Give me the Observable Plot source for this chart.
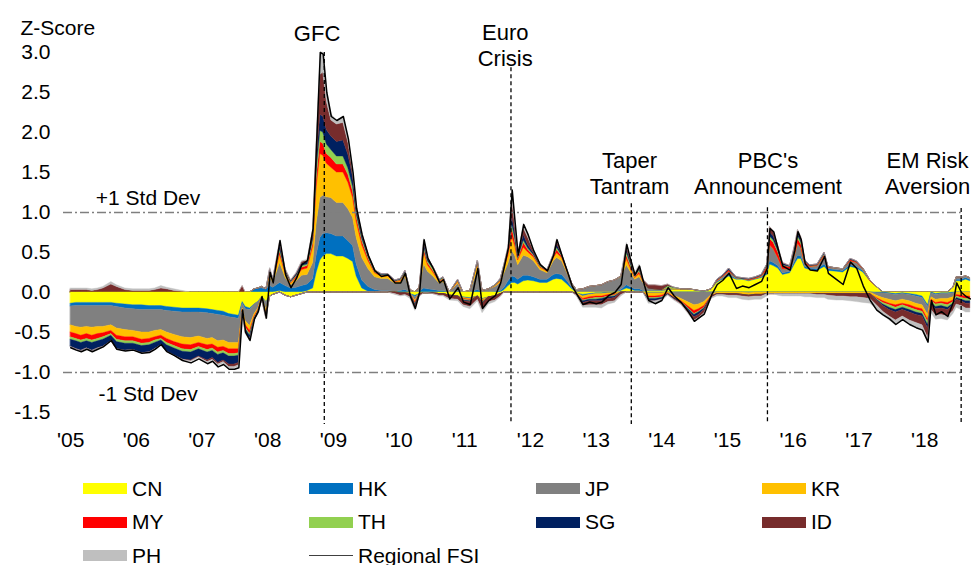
<!DOCTYPE html>
<html>
<head>
<meta charset="utf-8">
<script src="https://cdn.jsdelivr.net/npm/d3@7"></script>
<script src="https://cdn.jsdelivr.net/npm/@observablehq/plot@0.6"></script>
<style>
  html, body { margin: 0; padding: 0; background: #fff; }
  #chart { position: relative; width: 971px; height: 565px; overflow: hidden; font-family: "Liberation Sans", Arial, sans-serif; }
  #chart svg { display: block; }
  .legend { position: relative; width: 971px; height: 107px; }
  .item { position: absolute; height: 24px; display: flex; align-items: center; font-size: 21px; color: #000; white-space: nowrap; }
  .sw { width: 44px; height: 11px; margin-right: 5px; flex: none; }
  .ln { width: 44px; height: 1.5px; margin-right: 5px; flex: none; background: #404040; }
</style>
</head>
<body>
<div id="chart"></div>
<script>
// ---------------- DATA ----------------
const countries = ["CN", "HK", "JP", "KR", "MY", "TH", "SG", "ID", "PH"];
const years = [2005, 2006, 2007, 2008, 2009, 2010, 2011, 2012, 2013, 2014, 2015, 2016, 2017, 2018];
const yTicks = [-1.5, -1.0, -0.5, 0.0, 0.5, 1.0, 1.5, 2.0, 2.5, 3.0];

const dates = [
  "2005-01-01","2005-02-01","2005-03-01","2005-04-01","2005-05-01","2005-06-01","2005-07-01","2005-08-15","2005-09-15","2005-11-01",
  "2005-12-15","2006-02-01","2006-03-15","2006-04-15","2006-05-20","2006-06-20","2006-08-01","2006-09-15","2006-11-01","2006-12-15",
  "2007-02-01","2007-03-01","2007-04-01","2007-05-01","2007-06-01","2007-07-01","2007-07-25","2007-08-15","2007-09-01","2007-09-25",
  "2007-10-20","2007-11-10","2007-12-01","2007-12-25","2008-01-15","2008-02-01","2008-03-10","2008-04-10","2008-05-10","2008-06-10",
  "2008-07-10","2008-08-10","2008-09-10","2008-09-30","2008-10-20","2008-11-05","2008-11-25","2008-12-20","2009-01-20","2009-02-25",
  "2009-03-25","2009-04-20","2009-05-10","2009-06-10","2009-07-15","2009-08-20","2009-09-25","2009-11-01","2009-12-10","2010-01-10",
  "2010-02-05","2010-03-05","2010-04-01","2010-04-25","2010-05-20","2010-06-10","2010-07-10","2010-08-15","2010-09-05","2010-10-10",
  "2010-11-25","2010-12-25","2011-02-01","2011-03-15","2011-04-10","2011-05-15","2011-06-20","2011-07-20","2011-08-10","2011-09-01",
  "2011-09-22","2011-10-08","2011-10-25","2011-11-25","2011-12-20","2012-01-20","2012-02-25","2012-04-05","2012-05-10","2012-05-28",
  "2012-06-25","2012-07-25","2012-08-20","2012-09-15","2012-10-20","2012-11-25","2013-01-01","2013-02-01","2013-03-10","2013-04-15",
  "2013-05-20","2013-06-20","2013-07-08","2013-08-05","2013-08-30","2013-09-20","2013-10-20","2013-11-25","2014-01-01","2014-02-05",
  "2014-03-10","2014-04-20","2014-05-25","2014-07-01","2014-07-25","2014-08-25","2014-10-05","2014-11-05","2014-12-05","2015-01-10",
  "2015-02-20","2015-03-25","2015-05-01","2015-06-05","2015-07-10","2015-08-10","2015-08-25","2015-09-15","2015-10-10","2015-11-05",
  "2015-12-15","2016-01-10","2016-01-28","2016-02-15","2016-03-08","2016-04-05","2016-05-15","2016-06-24","2016-07-15","2016-08-30",
  "2016-10-05","2016-11-15","2016-12-20","2017-01-25","2017-03-05","2017-04-10","2017-05-15","2017-06-20","2017-07-25","2017-09-01",
  "2017-10-10","2017-11-15","2017-12-20","2018-01-20","2018-02-08","2018-03-05","2018-04-05","2018-05-10","2018-06-10","2018-06-28",
  "2018-07-25","2018-08-20","2018-09-12"
];

const CN = [
  -0.14,-0.13,-0.13,-0.13,-0.13,-0.13,-0.13,-0.13,-0.14,-0.15,
  -0.16,-0.16,-0.17,-0.17,-0.17,-0.18,-0.19,-0.20,-0.20,-0.20,
  -0.21,-0.22,-0.23,-0.24,-0.27,-0.28,-0.29,-0.12,-0.18,-0.20,
  -0.15,-0.12,-0.06,-0.12,-0.05,-0.03,0.02,-0.04,-0.06,-0.04,
  -0.02,0.02,0.05,0.25,0.40,0.45,0.48,0.48,0.45,0.45,
  0.42,0.38,0.20,0.05,0.01,0,0,0,0,-0.01,
  -0.01,-0.02,-0.04,-0.02,-0.01,-0.01,-0.01,-0.02,-0.02,-0.04,
  -0.05,-0.06,-0.07,-0.05,-0.08,-0.06,-0.05,-0.02,0.03,0.08,
  0.12,0.12,0.10,0.14,0.15,0.14,0.12,0.12,0.16,0.17,
  0.16,0.10,0.04,-0.01,-0.03,-0.02,-0.01,-0.01,0,0,
  0.02,0.05,0.04,0.02,0.02,0.01,0.02,0.02,0.02,0.03,
  0.04,0.04,0.04,0.03,0.02,0.01,0.04,0.12,0.16,0.20,
  0.16,0.16,0.14,0.16,0.18,0.22,0.35,0.33,0.30,0.22,
  0.24,0.35,0.42,0.42,0.30,0.28,0.27,0.32,0.27,0.26,
  0.25,0.32,0.30,0.25,0.14,0.07,0,-0.01,-0.02,-0.01,
  -0.02,-0.03,-0.05,-0.16,0,-0.02,-0.01,-0.01,0.06,0.14,
  0.14,0.16,0.14
];
const HK = [
  -0.035,-0.04,-0.04,-0.04,-0.04,-0.04,-0.04,-0.04,-0.04,-0.05,
  -0.05,-0.06,-0.05,-0.05,-0.05,-0.05,-0.05,-0.05,-0.05,-0.05,
  -0.05,-0.05,-0.05,-0.05,-0.04,-0.04,-0.04,-0.02,-0.03,-0.02,
  0.04,0.05,0.05,0.04,0.08,0.06,0.10,0.08,0.05,0.06,
  0.08,0.08,0.12,0.22,0.28,0.28,0.26,0.25,0.25,0.25,
  0.22,0.20,0.15,0.10,0.06,0.03,0.02,0.02,0.01,0.02,
  0.03,0,-0.02,0.01,0.05,0.04,0.03,0.02,0.02,0,
  0.01,-0.01,-0.01,0.03,-0.01,0,0.01,0.02,0.03,0.06,
  0.08,0.07,0.06,0.07,0.06,0.05,0.04,0.04,0.06,0.06,
  0.06,0.04,0.02,0,-0.02,-0.01,-0.01,-0.01,-0.01,-0.01,
  0.01,0.04,0.03,0.02,0.02,0.01,-0.01,-0.01,-0.01,0,
  0,0,0,0,0,0,0,0.01,0.01,0.02,
  0.01,0.01,0.01,0.01,0.01,0.02,0.04,0.04,0.03,0.02,
  0.02,0.03,0.04,0.03,0.02,0.02,0.02,0.03,0.02,0.02,
  0.02,0.02,0.02,0.02,0,-0.01,-0.01,-0.01,-0.01,-0.01,
  -0.01,-0.02,-0.02,-0.02,-0.01,-0.01,-0.01,-0.01,-0.01,0.02,
  0.02,0.02,0.02
];
const JP = [
  -0.235,-0.26,-0.27,-0.26,-0.27,-0.26,-0.26,-0.24,-0.27,-0.27,
  -0.27,-0.28,-0.28,-0.26,-0.25,-0.27,-0.29,-0.31,-0.32,-0.30,
  -0.32,-0.30,-0.33,-0.31,-0.32,-0.31,-0.30,-0.06,-0.15,-0.20,
  -0.12,-0.08,0.02,-0.10,0.12,0.06,0.25,0.10,0.04,0.08,
  0.13,0.12,0.20,0.40,0.50,0.48,0.45,0.45,0.42,0.42,
  0.40,0.35,0.33,0.28,0.22,0.16,0.15,0.15,0.10,0.10,
  0.16,0.03,-0.04,0.04,0.30,0.22,0.17,0.09,0.11,0,
  0.10,0,0.02,0.25,0.02,0.04,0.06,0.10,0.18,0.22,
  0.32,0.27,0.18,0.25,0.23,0.20,0.12,0.08,0.17,0.20,
  0.17,0.10,0.04,0.03,0.04,0.07,0.08,0.09,0.13,0.15,
  0.16,0.25,0.20,0.12,0.15,0.10,0.03,0.02,0.01,0.02,
  -0.04,-0.08,-0.12,-0.16,-0.15,-0.12,-0.03,0.01,0.02,0.04,
  0.01,0,-0.01,0,0.01,0.04,0.20,0.17,0.10,0.05,
  0.03,0.08,0.15,0.10,0.04,0.02,0.04,0.10,0.02,0.02,
  0.02,0.05,0.05,0.02,0,-0.03,-0.06,-0.07,-0.08,-0.07,
  -0.08,-0.09,-0.09,-0.10,-0.05,-0.06,-0.06,-0.06,-0.05,0.03,
  0.03,0.02,0.02
];
const KR = [
  -0.09,-0.09,-0.10,-0.09,-0.10,-0.09,-0.08,-0.07,-0.09,-0.09,
  -0.08,-0.09,-0.08,-0.08,-0.07,-0.08,-0.09,-0.09,-0.09,-0.08,
  -0.08,-0.08,-0.08,-0.08,-0.08,-0.08,-0.08,-0.02,-0.05,-0.06,
  -0.03,-0.02,-0.01,-0.04,0.04,0.02,0.10,0.05,0.02,0.04,
  0.07,0.08,0.20,0.45,0.55,0.50,0.42,0.38,0.38,0.38,
  0.33,0.25,0.20,0.16,0.10,0.05,0.03,0.03,0.02,0.02,
  0.04,0,-0.02,0.01,0.15,0.08,0.05,0.02,0.03,0,
  0.02,-0.01,-0.01,0.08,-0.02,0,0.01,0.02,0.06,0.10,
  0.18,0.12,0.06,0.10,0.06,0.05,0.03,0.02,0.04,0.06,
  0.04,0.02,0.01,-0.01,-0.03,-0.03,-0.03,-0.03,-0.02,-0.02,
  0.01,0.08,0.05,0.02,0.04,0.01,-0.04,-0.04,-0.03,-0.01,
  -0.02,-0.03,-0.05,-0.07,-0.06,-0.05,-0.01,-0.02,-0.02,-0.02,
  -0.02,-0.03,-0.03,-0.03,-0.03,-0.02,-0.02,-0.02,-0.02,-0.02,
  -0.02,-0.02,-0.02,-0.02,-0.02,-0.02,-0.02,-0.02,-0.02,-0.02,
  -0.02,-0.02,-0.02,-0.02,-0.02,-0.03,-0.04,-0.05,-0.05,-0.05,
  -0.05,-0.05,-0.05,-0.06,-0.03,-0.04,-0.04,-0.05,-0.04,-0.03,
  -0.04,-0.05,-0.05
];
const MY = [
  -0.06,-0.06,-0.06,-0.06,-0.06,-0.06,-0.05,-0.04,-0.05,-0.05,
  -0.05,-0.05,-0.05,-0.04,-0.04,-0.05,-0.05,-0.06,-0.06,-0.05,
  -0.06,-0.05,-0.06,-0.05,-0.06,-0.06,-0.05,-0.01,-0.03,-0.04,
  -0.02,-0.01,-0.01,-0.02,0.02,0.01,0.04,0.02,0.01,0.02,
  0.03,0.03,0.05,0.12,0.15,0.15,0.12,0.12,0.10,0.10,
  0.10,0.08,0.06,0.05,0.03,0.01,0.01,0.01,0.01,0.01,
  0.01,0,-0.02,0,0.04,0.03,0.02,0.01,0.01,0,
  0.01,-0.01,-0.01,0.01,-0.01,0,0,0.01,0.02,0.04,
  0.10,0.06,0.02,0.06,0.03,0.02,0.01,0.01,0.02,0.04,
  0.02,0.01,0,0,-0.02,-0.02,-0.02,-0.02,-0.02,-0.01,
  0,0.04,0.03,0.01,0.03,0.01,-0.02,-0.02,-0.02,-0.01,
  -0.01,-0.01,-0.02,-0.04,-0.03,-0.02,-0.01,0.01,0.01,0.02,
  0,0,0.01,0.01,0.01,0.04,0.08,0.08,0.07,0.04,
  0.03,0.05,0.06,0.05,0.02,0.01,0.01,0.02,0.01,0,
  0,0.02,0.01,0.01,0.01,-0.01,-0.02,-0.02,-0.03,-0.02,
  -0.03,-0.03,-0.03,-0.03,-0.02,-0.02,-0.02,-0.03,-0.02,-0.02,
  -0.03,-0.03,-0.03
];
const TH = [
  -0.03,-0.03,-0.03,-0.03,-0.03,-0.03,-0.03,-0.02,-0.03,-0.03,
  -0.03,-0.03,-0.03,-0.03,-0.02,-0.03,-0.03,-0.03,-0.03,-0.03,
  -0.03,-0.03,-0.03,-0.03,-0.03,-0.03,-0.03,-0.01,-0.02,-0.02,
  -0.01,-0.01,0,-0.01,0.01,0.01,0.03,0.01,0.01,0.01,
  0.02,0.02,0.04,0.10,0.14,0.14,0.12,0.10,0.10,0.10,
  0.08,0.06,0.04,0.03,0.02,0.01,0.01,0.01,0,0.01,
  0.01,0,-0.01,0,0.03,0.02,0.03,0.01,0.01,0,
  0.01,-0.01,-0.01,0.01,-0.01,0,0.01,0.01,0.01,0.02,
  0.05,0.04,0.01,0.03,0.02,0.01,0.01,0,0.01,0.03,
  0.01,0.01,0,0,-0.01,-0.01,-0.02,-0.01,-0.01,-0.01,
  0,0.04,0.03,0.01,0.02,0.01,-0.01,-0.01,-0.01,0.03,
  0.02,0,-0.01,-0.01,-0.01,-0.01,0,0,0,0,
  0,0,0,0,0,0.01,0.03,0.03,0.02,0.01,
  0,0.02,0.03,0.03,0.01,0,0,0.01,0,0,
  0,0,0,0,0,-0.01,-0.02,-0.03,-0.03,-0.03,
  -0.03,-0.03,-0.03,-0.04,-0.02,-0.03,-0.03,-0.03,-0.02,-0.02,
  -0.02,-0.03,-0.03
];
const SG = [
  -0.09,-0.10,-0.10,-0.09,-0.10,-0.09,-0.09,-0.07,-0.09,-0.09,
  -0.08,-0.09,-0.09,-0.08,-0.06,-0.08,-0.09,-0.10,-0.10,-0.09,
  -0.10,-0.09,-0.10,-0.09,-0.10,-0.10,-0.09,-0.01,-0.04,-0.05,
  -0.02,-0.02,-0.01,-0.03,0.02,0.01,0.05,0.02,0.01,0.02,
  0.03,0.03,0.05,0.12,0.20,0.20,0.18,0.17,0.18,0.20,
  0.17,0.12,0.06,0.04,0.02,0.01,0.01,0.01,0.01,0.01,
  0.02,0,-0.02,0,0.05,0.03,0.02,0.01,0.01,0,
  0.01,-0.01,-0.01,0.02,-0.01,0,0,0.01,0.02,0.03,
  0.10,0.07,0.02,0.07,0.04,0.02,0.01,0.01,0.01,0.04,
  0.01,0,0,0,-0.02,-0.02,-0.02,-0.03,-0.02,-0.02,
  0,0.04,0.03,0.01,0.02,0,-0.03,-0.03,-0.02,-0.01,
  -0.01,-0.01,-0.02,-0.03,-0.03,-0.02,0,0.01,0.01,0.02,
  0.01,0.01,0.01,0.01,0.01,0.02,0.05,0.05,0.03,0.02,
  0.01,0.03,0.04,0.03,0.01,0.01,0.01,0.02,0,0,
  0,0.01,0.01,0,0,-0.01,-0.02,-0.03,-0.03,-0.03,
  -0.03,-0.03,-0.03,-0.04,-0.02,-0.03,-0.03,-0.03,-0.02,-0.02,
  -0.02,-0.03,-0.03
];
const ID = [
  0.03,0.03,0.03,0.03,0.02,0.03,0.05,0.10,0.07,0.03,
  0.02,0.02,0.02,0.03,0.05,0.04,0.02,0.01,-0.01,-0.01,
  -0.02,-0.02,-0.02,-0.02,-0.03,-0.03,-0.03,0.08,-0.01,-0.01,
  0,-0.01,0,-0.01,0.01,0,0.04,0.01,0.01,0.01,
  0.02,0.02,0.06,0.20,0.50,0.55,0.35,0.20,0.22,0.22,
  0.15,0.06,0.03,0.02,0.01,0.01,0,0,-0.02,-0.03,
  -0.02,-0.04,-0.04,-0.03,0.03,0.01,-0.01,-0.02,-0.02,-0.04,
  -0.04,-0.05,-0.06,-0.04,-0.08,-0.06,-0.05,-0.03,0,0.02,
  0.20,0.10,0.02,0.08,0.09,0.03,0.01,0,0.01,0.05,
  0.01,0,0,-0.02,-0.04,-0.05,-0.05,-0.05,-0.04,-0.04,
  -0.03,0.05,0.03,0.02,0.03,0.01,0.04,0.05,0.05,0.02,
  -0.01,-0.02,-0.03,-0.04,-0.04,-0.04,-0.02,-0.01,-0.01,-0.02,
  -0.02,-0.02,-0.02,-0.02,-0.02,0,0.07,0.06,0.03,0.01,
  0,0.02,0.04,0.03,0,0,-0.01,-0.01,-0.02,-0.03,
  -0.03,-0.04,-0.04,-0.05,-0.06,-0.06,-0.07,-0.08,-0.10,-0.08,
  -0.10,-0.10,-0.11,-0.12,-0.07,-0.08,-0.08,-0.08,-0.07,-0.06,
  -0.06,-0.06,-0.06
];
const PH = [
  0.02,0.02,0.02,0.02,0.02,0.02,0.02,0.03,0.02,0.02,
  0.02,0.02,0.02,0.02,0.03,0.02,0.02,0.01,-0.01,-0.01,
  -0.01,-0.01,-0.02,-0.02,-0.02,-0.02,-0.02,0,-0.01,-0.01,
  0,0,0,-0.01,0.01,0,0.02,0.01,0,0.01,
  0.01,0.01,0.03,0.06,0.28,0.25,0.14,0.08,0.05,0.07,
  0.07,0.03,0.01,0.01,0.01,0,0,0,-0.01,-0.01,
  -0.01,-0.02,-0.02,-0.01,0.02,0.01,0,-0.01,-0.01,-0.02,
  -0.02,-0.02,-0.03,-0.02,-0.04,-0.03,-0.02,-0.01,0,0.01,
  0.13,0.05,0.01,0.06,0.05,0.01,0.01,0,0,0.02,
  0,0,0,-0.01,-0.02,-0.03,-0.03,-0.04,-0.03,-0.02,
  -0.02,0.03,0.02,0.01,0.02,0,-0.03,-0.03,-0.02,-0.01,
  -0.01,-0.01,-0.01,-0.02,-0.02,-0.02,-0.01,-0.02,-0.02,-0.03,
  -0.03,-0.04,-0.04,-0.04,-0.04,-0.03,0,0,-0.02,-0.03,
  -0.03,-0.03,-0.03,-0.03,-0.04,-0.04,-0.04,-0.04,-0.05,-0.05,
  -0.05,-0.05,-0.06,-0.06,-0.06,-0.05,-0.05,-0.05,-0.06,-0.05,
  -0.06,-0.06,-0.06,-0.05,-0.04,-0.05,-0.05,-0.05,-0.04,-0.04,
  -0.05,-0.05,-0.05
];
const FSI = [
  -0.69,-0.72,-0.74,-0.71,-0.74,-0.71,-0.68,-0.60,-0.71,-0.73,
  -0.72,-0.76,-0.75,-0.71,-0.65,-0.74,-0.79,-0.85,-0.88,-0.83,
  -0.89,-0.86,-0.93,-0.90,-0.96,-0.96,-0.94,-0.22,-0.50,-0.60,
  -0.33,-0.24,-0.05,-0.32,0.25,0.12,0.65,0.22,0.06,0.18,
  0.35,0.40,0.80,1.90,3.00,2.98,2.50,2.20,2.15,2.20,
  1.92,1.50,1.05,0.72,0.46,0.27,0.20,0.22,0.12,0.12,
  0.24,-0.05,-0.20,0.00,0.66,0.43,0.30,0.12,0.16,-0.08,
  0.06,-0.12,-0.15,0.30,-0.20,-0.10,-0.04,0.12,0.33,0.56,
  1.28,0.88,0.47,0.85,0.72,0.52,0.35,0.27,0.47,0.66,
  0.46,0.26,0.08,-0.02,-0.15,-0.12,-0.14,-0.12,-0.04,0.00,
  0.10,0.60,0.44,0.22,0.33,0.14,-0.10,-0.14,-0.10,0.06,
  -0.04,-0.13,-0.23,-0.36,-0.32,-0.27,-0.03,0.10,0.15,0.24,
  0.05,0.08,0.06,0.10,0.14,0.30,0.80,0.76,0.54,0.33,
  0.28,0.52,0.76,0.66,0.36,0.28,0.27,0.45,0.24,0.16,
  0.10,0.38,0.30,0.08,-0.10,-0.22,-0.28,-0.33,-0.40,-0.34,
  -0.40,-0.44,-0.47,-0.62,-0.10,-0.28,-0.24,-0.30,-0.12,0.12,
  0.00,-0.05,-0.08
];

const events = [
  {label: "GFC", date: "2008-11-11"},
  {label: "Euro\nCrisis", date: "2011-09-15"},
  {label: "Taper\nTantram", date: "2013-07-15"},
  {label: "PBC's\nAnnouncement", date: "2015-08-11"},
  {label: "EM Risk\nAversion", date: "2018-07-23"}
];
const bands = [{label: "+1 Std Dev", value: 1}, {label: "-1 Std Dev", value: -1}];

// ---------------- LAYOUT / STYLE ----------------
const colors = ["#FFFF00", "#0070C0", "#808080", "#FFC000", "#FF0000", "#92D050", "#002060", "#772C2C", "#BFBFBF"];
const eventLayout = [
  {top: 3.0, labelDate: "2008-10-02", labelY: 3.15},
  {top: 2.81, labelDate: "2011-08-14", labelY: 2.8375},
  {top: 1.11, labelDate: "2013-07-05", labelY: 1.2375},
  {top: 1.06, labelDate: "2015-08-14", labelY: 1.2375},
  {top: 1.05, labelDate: "2018-01-17", labelY: 1.2375}
];
const bandLayout = [{labelDate: "2006-03-07", labelY: 1.1}, {labelDate: "2006-03-07", labelY: -1.35}];

const parse = d3.utcParse("%Y-%m-%d");
const series = {CN, HK, JP, KR, MY, TH, SG, ID, PH};
const table = [];
countries.forEach(c => {
  dates.forEach((d, i) => table.push({date: parse(d), country: c, v: series[c][i]}));
});
const fsiTable = dates.map((d, i) => ({date: parse(d), v: FSI[i]}));
const xStart = parse("2004-11-22"), xEnd = parse("2018-09-13");
const emDate = parse(events[events.length - 1].date);
const ev = events.map((e, i) => ({...e, ...eventLayout[i]}));
const bd = bands.map((b, i) => ({...b, ...bandLayout[i]}));

const plot = Plot.plot({
  width: 971,
  height: 458,
  marginTop: 52,
  marginBottom: 30,
  marginLeft: 63,
  marginRight: 1,
  style: {fontFamily: '"Liberation Sans", Arial, sans-serif', fontSize: "21px", color: "#000", background: "#fff", overflow: "visible"},
  x: {type: "utc", domain: [xStart, xEnd]},
  y: {domain: [-1.7, 3.0]},
  color: {domain: countries, range: colors},
  marks: [
    Plot.areaY(table, Plot.stackY({x: "date", y: d => Math.max(d.v, 0), z: "country", fill: "country", stroke: "country", strokeWidth: 0.4})),
    Plot.areaY(table, Plot.stackY({x: "date", y: d => Math.min(d.v, -1e-9), z: "country", fill: "country", stroke: "country", strokeWidth: 0.4})),
    Plot.ruleY(bd, {y: "value", x1: () => xStart, x2: () => emDate, stroke: "#7f7f7f", strokeWidth: 1.5, strokeDasharray: "9,3,2,3"}),
    Plot.ruleX(ev, {x: d => parse(d.date), y1: "top", y2: -1.65, stroke: "#000", strokeWidth: 1.3, strokeDasharray: "4,3"}),
    Plot.lineY(fsiTable, {x: "date", y: "v", stroke: "#000", strokeWidth: 1.5}),
    Plot.text(ev, {x: d => parse(d.labelDate), y: "labelY", text: "label", lineAnchor: "bottom", lineHeight: 1.14, fontSize: 22, fill: "#000"}),
    Plot.text(bd, {x: d => parse(d.labelDate), y: "labelY", text: "label", lineAnchor: "bottom", fontSize: 21, fill: "#000"}),
    Plot.text(["Z-Score"], {frameAnchor: "top-left", text: d => d, dx: -43, dy: -18, textAnchor: "start", lineAnchor: "bottom", fontSize: 21, fill: "#000"}),
    Plot.axisX({ticks: years.map(y => new Date(Date.UTC(y, 0, 1))), tickFormat: d => "'" + String(d.getUTCFullYear()).slice(2), tickSize: 0, tickPadding: 4, fontSize: 21, label: null}),
    Plot.axisY({ticks: yTicks, tickFormat: d => d.toFixed(1), tickSize: 0, tickPadding: 13, fontSize: 21, label: null})
  ]
});

const root = document.getElementById("chart");
root.appendChild(plot);

// legend
const legend = document.createElement("div");
legend.className = "legend";
const entries = countries.map((c, i) => ({label: c, color: colors[i], type: "area"}));
entries.push({label: "Regional FSI", color: "#404040", type: "line"});
const colX = [83, 309, 536, 762];
const rowY = [18.5, 52, 85.5];
entries.forEach((e, i) => {
  const item = document.createElement("div");
  item.className = "item";
  item.style.left = colX[i % 4] + "px";
  item.style.top = rowY[Math.floor(i / 4)] + "px";
  const sw = document.createElement("div");
  sw.className = e.type === "line" ? "ln" : "sw";
  if (e.type !== "line") sw.style.background = e.color;
  const tx = document.createElement("span");
  tx.textContent = e.label;
  item.appendChild(sw);
  item.appendChild(tx);
  legend.appendChild(item);
});
root.appendChild(legend);
</script>
</body>
</html>
